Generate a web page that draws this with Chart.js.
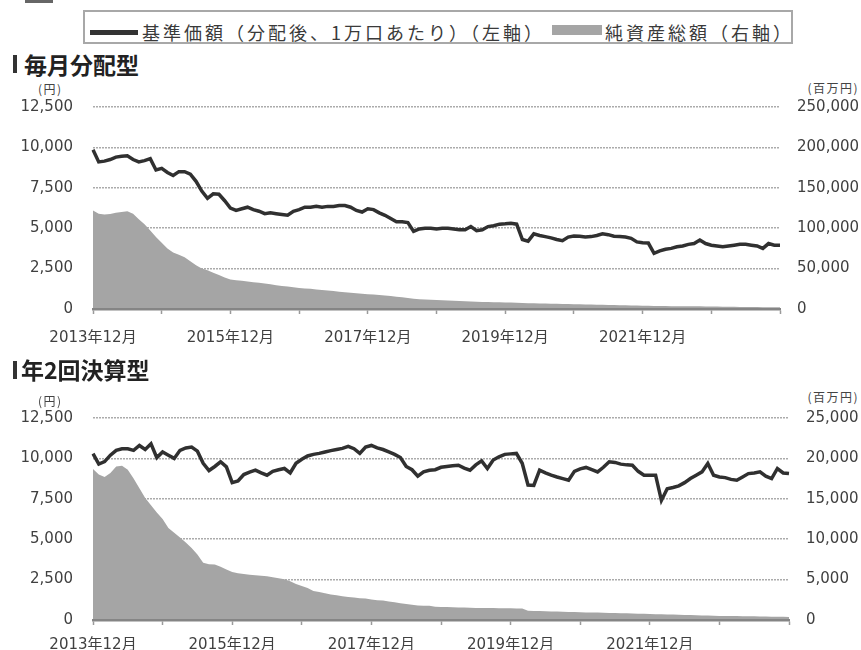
<!DOCTYPE html>
<html>
<head>
<meta charset="utf-8">
<script src="https://cdn.jsdelivr.net/npm/chart.js@4.4.1/dist/chart.umd.min.js"></script>
<style>
  body { margin: 0; width: 861px; height: 650px; overflow: hidden; background: #fff; position: relative;
         font-family: 'Noto Sans CJK JP', 'DejaVu Sans', sans-serif; color: #333; }
  .abs { position: absolute; }
  .legendBox { left: 83px; top: 10px; width: 710px; height: 34px; border: 2px solid #a8a8a8; box-sizing: border-box; }
  .legendText { font-size: 18px; line-height: 18px; letter-spacing: 3px; white-space: nowrap; color: #3a3a3a; }
  .title { font-size: 23px; line-height: 23px; font-weight: bold; color: #222; white-space: nowrap; }
  .bar { width: 4px; height: 18px; background: #333; }
  .unit { font-size: 12px; line-height: 12px; letter-spacing: 1.5px; color: #444; white-space: nowrap; }
  canvas { position: absolute; left: 0; }
</style>
</head>
<body>
<div class="abs" style="left:25px;top:0;width:28px;height:3px;background:#666"></div>

<!-- 凡例 -->
<div class="abs legendBox"></div>
<div class="abs" style="left:90px;top:30px;width:48px;height:5px;background:#333"></div>
<div class="abs legendText" style="left:142px;top:23px">基準価額（分配後、1万口あたり）（左軸）</div>
<div class="abs" style="left:552px;top:25px;width:50px;height:10px;background:#a5a5a5"></div>
<div class="abs legendText" style="left:605px;top:23px">純資産総額（右軸）</div>

<!-- 毎月分配型 -->
<div class="abs bar" style="left:13px;top:55px"></div>
<div class="abs title" style="left:24px;top:53px">毎月分配型</div>
<div class="abs unit" style="left:38px;top:83px">(円)</div>
<div class="abs unit" style="right:2px;top:82px">(百万円)</div>
<canvas id="chartMonthly" width="861" height="271" style="top:95px"></canvas>

<!-- 年2回決算型 -->
<div class="abs bar" style="left:13px;top:361px"></div>
<div class="abs title" style="left:21px;top:358px">年2回決算型</div>
<div class="abs unit" style="left:38px;top:395px">(円)</div>
<div class="abs unit" style="right:2px;top:391px">(百万円)</div>
<canvas id="chartSemi" width="861" height="263" style="top:406px"></canvas>

<script>
// --- DATA ---
// 2013年12月〜2023年12月 (月次)
const months = [];
for (let y = 2013, m = 12; ; ) {
    months.push(y + '年' + m + '月');
    if (y === 2023 && m === 12) break;
    m++; if (m > 12) { m = 1; y++; }
}
const xTickLabels = ['2013年12月', '2015年12月', '2017年12月', '2019年12月', '2021年12月'];

const leftTicks = [0, 2500, 5000, 7500, 10000, 12500];

// 毎月分配型: 基準価額 (円)
const navMonthly = [
    9850,
    9100, 9150, 9250, 9400, 9450, 9480, 9250, 9100, 9180, 9300, 8600, 8700,
    8450, 8260, 8500, 8500, 8350, 7900, 7300, 6850, 7130, 7100, 6700, 6250,
    6100, 6200, 6300, 6150, 6050, 5900, 5950, 5900, 5850, 5800, 6050, 6150,
    6300, 6300, 6350, 6300, 6350, 6350, 6400, 6400, 6300, 6100, 6000, 6200,
    6150, 5950, 5800, 5600, 5400, 5400, 5350, 4800, 4950, 5000, 5000, 4950,
    5000, 5000, 4950, 4900, 4900, 5100, 4850, 4900, 5100, 5150, 5250, 5270,
    5300, 5250, 4300, 4200, 4650, 4550, 4480, 4400, 4300, 4230, 4450, 4520,
    4500, 4450, 4480, 4550, 4650, 4600, 4500, 4480, 4450, 4375, 4150, 4100,
    4080, 3450, 3600, 3700, 3750, 3850, 3900, 4000, 4050, 4270, 4050, 3950,
    3900, 3850, 3900, 3950, 4000, 4000, 3950, 3900, 3750, 4050, 3950, 3950
];
// 毎月分配型: 純資産総額 (百万円)
const assetsMonthly = [
    122000,
    118000, 117000, 117500, 119000, 120000, 121000, 118000, 111000, 105000, 97000, 89000, 82000,
    75000, 70000, 67000, 64000, 59000, 54000, 50000, 48000, 45000, 42000, 39000, 36500,
    35500, 35000, 34000, 33000, 32500, 31500, 30500, 29500, 28500, 28000, 27000, 26000,
    25500, 25000, 24000, 23500, 23000, 22400, 21500, 20800, 20000, 19500, 19000, 18400,
    17800, 17200, 16600, 16000, 15300, 14500, 13500, 12800, 12200, 11800, 11500, 11000,
    10700, 10400, 10100, 9800, 9500, 9200, 9000, 8800, 8600, 8400, 8300, 8100,
    7900, 7700, 7300, 7100, 7000, 6800, 6700, 6500, 6400, 6250, 6100, 6000,
    5900, 5700, 5600, 5400, 5300, 5100, 4900, 4700, 4500, 4300, 4200, 4000,
    3900, 3600, 3600, 3600, 3500, 3500, 3400, 3400, 3300, 3300, 3200, 3100,
    3000, 2900, 2800, 2700, 2600, 2500, 2500, 2400, 2300, 2300, 2200, 2100
];

// 年2回決算型: 基準価額 (円)
const navSemi = [
    10300,
    9650, 9800, 10200, 10500, 10600, 10600, 10500, 10800, 10550, 10900, 10050, 10400,
    10200, 10000, 10500, 10650, 10700, 10450, 9700, 9250, 9500, 9790, 9480, 8500,
    8600, 9000, 9150, 9270, 9100, 8960, 9200, 9300, 9375, 9100, 9700, 9950,
    10150, 10250, 10310, 10400, 10480, 10550, 10620, 10750, 10600, 10310, 10700, 10800,
    10650, 10550, 10400, 10250, 10050, 9500, 9300, 8900, 9165, 9270, 9300, 9450,
    9500, 9550, 9580, 9400, 9270, 9600, 9850, 9375, 9900, 10100, 10250, 10280,
    10310, 9700, 8350, 8330, 9270, 9100, 8960, 8850, 8750, 8650, 9200, 9350,
    9440, 9300, 9165, 9450, 9790, 9750, 9645, 9600, 9580, 9200, 8960, 8960,
    8960, 7400, 8125, 8200, 8300, 8500, 8750, 8960, 9165, 9690, 8960, 8850,
    8810, 8700, 8650, 8850, 9060, 9100, 9165, 8900, 8750, 9375, 9100, 9060
];
// 年2回決算型: 純資産総額 (百万円)
const assetsSemi = [
    18700,
    18000, 17700, 18200, 19000, 19100, 18600, 17500, 16300, 15100, 14200, 13300, 12500,
    11400, 10800, 10200, 9600, 8900, 8100, 7100, 6900, 6875, 6600, 6250, 5950,
    5800, 5700, 5600, 5550, 5480, 5420, 5300, 5180, 5050, 4800, 4450, 4200,
    3950, 3600, 3450, 3300, 3150, 3050, 2950, 2850, 2800, 2700, 2650, 2550,
    2450, 2400, 2300, 2200, 2080, 1980, 1880, 1800, 1770, 1750, 1650, 1620,
    1600, 1580, 1550, 1540, 1520, 1500, 1490, 1480, 1470, 1460, 1450, 1440,
    1430, 1420, 1150, 1120, 1100, 1080, 1060, 1040, 1020, 1000, 980, 960,
    940, 930, 920, 900, 880, 860, 840, 820, 800, 780, 760, 740,
    720, 710, 690, 670, 650, 630, 610, 590, 570, 550, 530, 510,
    500, 490, 480, 470, 460, 450, 430, 420, 410, 400, 390, 375
];

// --- GRAFİK ---
const tickFont = { family: "'DejaVu Sans', 'Noto Sans CJK JP', sans-serif", size: 15 };
Chart.defaults.color = '#404040';

function fmt(v) { return Number(v).toLocaleString('en-US'); }

// y軸の上下余白を小さく (ticks.padding が上下にも効くため)
function fitY(width) {
    return (s) => { s.width = width; s.paddingTop = 8; s.paddingBottom = 8; };
}

function makeChart(id, nav, assets, rightMax, rightStep, rightWidth, xPad) {
    const ctx = document.getElementById(id).getContext('2d');
    return new Chart(ctx, {
        type: 'line',
        data: {
            labels: months,
            datasets: [{
                label: '基準価額（分配後、1万口あたり）（左軸）',
                data: nav,
                yAxisID: 'y',
                borderColor: '#303030',
                borderWidth: 3.5,
                pointRadius: 0,
                tension: 0,
                fill: false,
                order: 1
            }, {
                label: '純資産総額（右軸）',
                data: assets,
                yAxisID: 'y2',
                borderWidth: 0,
                borderColor: 'rgba(0,0,0,0)',
                backgroundColor: '#a5a5a5',
                pointRadius: 0,
                tension: 0,
                fill: 'origin',
                order: 2
            }]
        },
        options: {
            responsive: false,
            animation: false,
            layout: { padding: { top: 12, left: 18, right: 0, bottom: 4 } },
            plugins: { legend: { display: false }, tooltip: { enabled: false } },
            scales: {
                x: {
                    type: 'category',
                    grid: {
                        drawOnChartArea: false,
                        tickLength: 5,
                        tickWidth: 1.5,
                        tickColor: (c) => (c.index % 12 === 0 ? '#9a9a9a' : 'rgba(0,0,0,0)')
                    },
                    border: { display: true, color: '#858585', width: 2.5, z: 1 },
                    ticks: {
                        autoSkip: false,
                        maxRotation: 0,
                        minRotation: 0,
                        padding: xPad,
                        font: tickFont,
                        callback: function (val, i) {
                            const lab = months[i];
                            return xTickLabels.includes(lab) ? lab : '';
                        }
                    }
                },
                y: {
                    position: 'left',
                    min: leftTicks[0],
                    max: leftTicks[leftTicks.length - 1],
                    afterBuildTicks: (s) => { s.ticks = leftTicks.map(v => ({ value: v })); },
                    afterFit: fitY(75),
                    grid: {
                        drawTicks: false,
                        lineWidth: 1.5,
                        color: (c) => (c.tick && c.tick.value === 0 ? 'rgba(0,0,0,0)' : '#ababab')
                    },
                    border: { display: false, dash: [2, 1] },
                    ticks: { padding: 20, font: tickFont, callback: (v) => fmt(v) }
                },
                y2: {
                    position: 'right',
                    min: 0,
                    max: rightMax,
                    ticks: { stepSize: rightStep, padding: 17, font: tickFont, callback: (v) => fmt(v) },
                    afterFit: fitY(rightWidth),
                    grid: { drawOnChartArea: false, drawTicks: false },
                    border: { display: false }
                }
            }
        }
    });
}

makeChart('chartMonthly', navMonthly, assetsMonthly, 250000, 50000, 81, 15);
makeChart('chartSemi', navSemi, assetsSemi, 25000, 5000, 72, 11);
</script>
</body>
</html>
